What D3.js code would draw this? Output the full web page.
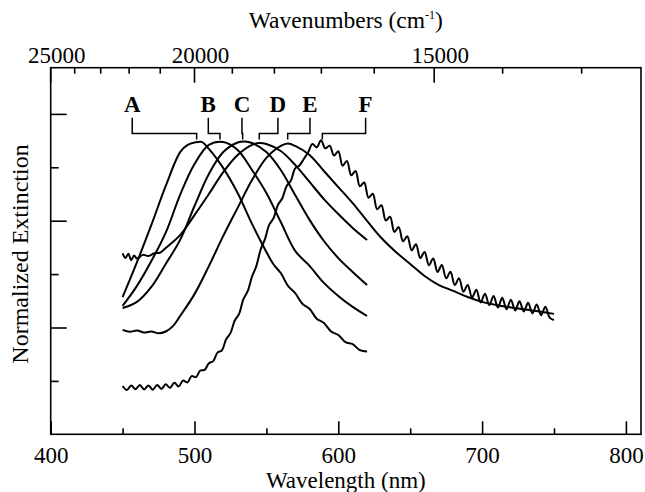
<!DOCTYPE html>
<html>
<head>
<meta charset="utf-8">
<script src="https://cdn.jsdelivr.net/npm/d3@7"></script>
<style>
  body { margin: 0; background: #fff; }
  text { font-family: "Liberation Serif", "Times New Roman", serif; fill: #000; }
</style>
</head>
<body>
<div id="chart"></div>
<script>
// spectra: wavelength (nm) and normalized extinction
const wlA = [450,460,470,480,490,495,500,505,510,520,530,540,550,555,560,565,570,575,580,585,590,595,600,605,610,615,620];
const extA = [.514,.645,.784,.930,1.057,1.083,1.093,1.095,1.069,.997,.904,.788,.683,.636,.604,.556,.529,.489,.470,.433,.417,.385,.372,.345,.338,.315,.310];

const wlB = [450,460,470,480,490,500,510,520,530,540,550,560,570,580,590,600,610,620];
const extB = [.481,.556,.649,.755,.897,1.012,1.084,1.095,1.065,.990,.904,.795,.687,.631,.567,.518,.477,.443];

const wlC = [450,460,470,480,490,500,510,520,530,535,540,550,560,570,580,590,600,610,620];
const extC = [.473,.496,.552,.638,.728,.855,.975,1.057,1.093,1.097,1.091,1.057,.990,.896,.803,.724,.660,.608,.559];

const wlD = [450,452,454,456,458,460,464,468,472,476,480,490,500,510,520,530,540,545,550,560,570,580,590,600,610,620];
const extD = [.678,.660,.676,.652,.670,.658,.672,.668,.678,.680,.698,.746,.821,.900,.982,1.046,1.084,1.091,1.087,1.061,1.009,.945,.881,.825,.773,.728];

const wlE = [450,455,460,465,470,475,480,485,490,500,510,520,530,540,550,560,565,570,580,590,600,610,620,630,640,650,660,670,680,690,700,710,720,730,740,750];
const extE = [.391,.384,.389,.381,.385,.378,.385,.405,.443,.525,.630,.743,.848,.952,1.035,1.080,1.089,1.080,1.046,.986,.926,.866,.799,.735,.683,.638,.593,.559,.537,.514,.496,.484,.475,.467,.460,.451];

const wlF = [450,453,456,459,462,465,468,471,474,477,480,483,486,489,492,495,498,501,504,507,
  510,513,516,519,522,525,528,531,534,537,540,543,546,549,552,555,558,561,564,567,
  570,573,576,579,582,585,588,591,594,597,600,603,606,609,612,615,618,621,624,627,
  630,633,636,639,642,645,648,651,654,657,660,663,666,669,672,675,678,681,684,687,
  690,693,696,699,702,705,708,711,714,717,720,723,726,729,732,735,738,741,744,747,750];
const extF = [.181,.166,.183,.169,.185,.168,.183,.167,.185,.170,.187,.174,.193,.179,.201,.194,.218,.214,.239,.241,
  .266,.274,.306,.314,.356,.379,.426,.451,.506,.536,.591,.630,.692,.731,.785,.810,.859,.883,.929,.950,
  .996,1.007,1.031,1.056,1.087,1.075,1.101,1.071,1.081,1.044,1.060,1.006,1.024,.970,.986,.929,.943,.886,.901,.843,
  .858,.801,.815,.758,.776,.723,.742,.689,.712,.660,.683,.633,.658,.608,.634,.584,.609,.559,.584,.534,
  .559,.512,.541,.494,.526,.484,.518,.475,.511,.468,.504,.464,.498,.460,.493,.453,.486,.446,.478,.437,.428];

// sample labels: label position and peak position (nm)
const sampleNames = ["A","B","C","D","E","F"];
const labelWl = [456.7,509.6,533,558,580.3,619];
const peakWl = [501.5,517.7,533.5,545,564.8,588.9];

// axis ticks
const wlMajor = [400,500,600,700,800];
const wlMinor = [450,550,650,750];
const wnTicks = [25000,24000,23000,22000,21000,20000,19000,18000,17000,16000,15000,14000,13000];
const wnLabels = [25000,20000,15000];
const extLong = [0.4,0.8,1.2];
const extShort = [0.2,0.6,1.0];

const width = 645, height = 492;
const margin = {top: 67.7, right: 4, bottom: 57.7, left: 50.7};
const w = width - margin.left - margin.right;
const h = height - margin.top - margin.bottom;

const svg = d3.select("#chart").append("svg")
  .attr("width", width)
  .attr("height", height);

const g = svg.append("g").attr("transform", `translate(${margin.left},${margin.top})`);

const x = d3.scaleLinear().domain([400, 810.5]).range([0, w]);
const y = d3.scaleLinear().domain([0, 1.373]).range([h, 0]);

// frame
g.append("rect")
  .attr("width", w).attr("height", h)
  .attr("fill", "none").attr("stroke", "#000").attr("stroke-width", 1.6);

// bottom axis: major ticks with labels, minor ticks
const bottomMajor = g.append("g")
  .attr("transform", `translate(0,${h})`)
  .call(d3.axisBottom(x).tickValues(wlMajor).tickSize(-13).tickFormat(d3.format("d")));
bottomMajor.selectAll("text").attr("y", 28.3).attr("dy", null)
  .attr("font-size", 23).attr("font-family", "Liberation Serif, serif");
g.append("g")
  .attr("transform", `translate(0,${h})`)
  .call(d3.axisBottom(x).tickValues(wlMinor).tickSize(-6).tickFormat(""));

// left axis ticks (no labels)
g.append("g").call(d3.axisLeft(y).tickValues(extLong).tickSize(-16).tickFormat(""));
g.append("g").call(d3.axisLeft(y).tickValues(extShort).tickSize(-8).tickFormat(""));

g.selectAll(".domain").remove();
g.selectAll(".tick line").attr("stroke", "#000").attr("stroke-width", 1.6);

// top axis in wavenumbers
const wnX = wn => x(1e7 / wn);
g.append("g").selectAll("line")
  .data(wnTicks)
  .join("line")
  .attr("x1", d => wnX(d)).attr("x2", d => wnX(d))
  .attr("y1", 0)
  .attr("y2", d => d % 5000 === 0 ? 15 : 6)
  .attr("stroke", "#000").attr("stroke-width", 1.6);
g.append("g").selectAll("text")
  .data(wnLabels)
  .join("text")
  .attr("x", d => wnX(d) + 6)
  .attr("y", -4.4)
  .attr("text-anchor", "middle")
  .attr("font-size", 23)
  .text(d => d);

// axis titles
svg.append("text")
  .attr("x", margin.left + w / 2).attr("y", 488)
  .attr("text-anchor", "middle").attr("font-size", 23)
  .text("Wavelength (nm)");

const topTitle = svg.append("text")
  .attr("x", margin.left + w / 2).attr("y", 28)
  .attr("text-anchor", "middle").attr("font-size", 23.5);
topTitle.append("tspan").text("Wavenumbers (cm");
topTitle.append("tspan").attr("dy", -9).attr("font-size", 12).text("-1");
topTitle.append("tspan").attr("dy", 9).text(")");

svg.append("text")
  .attr("transform", `translate(28,${margin.top + h / 2 + 3}) rotate(-90)`)
  .attr("text-anchor", "middle").attr("font-size", 24)
  .text("Normalized Extinction");

// spectra
const series = [[wlA, extA], [wlB, extB], [wlC, extC], [wlD, extD], [wlE, extE], [wlF, extF]]
  .map(([wl, ext]) => wl.map((d, i) => [d, ext[i]]));

const line = d3.line()
  .x(d => x(d[0]))
  .y(d => y(d[1]))
  .curve(d3.curveCatmullRom);

g.selectAll(".spectrum")
  .data(series)
  .join("path")
  .attr("class", "spectrum")
  .attr("d", line)
  .attr("fill", "none")
  .attr("stroke", "#000")
  .attr("stroke-width", 2)
  .attr("stroke-linejoin", "round");

// labels with bracket leaders
const yLabel = 1.206, yTop = 1.186, yMid = 1.127, yFoot = 1.104;
const labels = sampleNames.map((n, i) => ({name: n, lx: labelWl[i], px: peakWl[i]}));

g.selectAll(".leader")
  .data(labels)
  .join("path")
  .attr("class", "leader")
  .attr("d", d => d3.line()([
    [x(d.lx), y(yTop)], [x(d.lx), y(yMid)], [x(d.px), y(yMid)], [x(d.px), y(yFoot)]
  ]))
  .attr("fill", "none").attr("stroke", "#000").attr("stroke-width", 1.5);

g.selectAll(".lbl")
  .data(labels)
  .join("text")
  .attr("class", "lbl")
  .attr("x", d => x(d.lx))
  .attr("y", y(yLabel))
  .attr("text-anchor", "middle")
  .attr("font-size", 23)
  .attr("font-weight", "bold")
  .text(d => d.name);
</script>
</body>
</html>
